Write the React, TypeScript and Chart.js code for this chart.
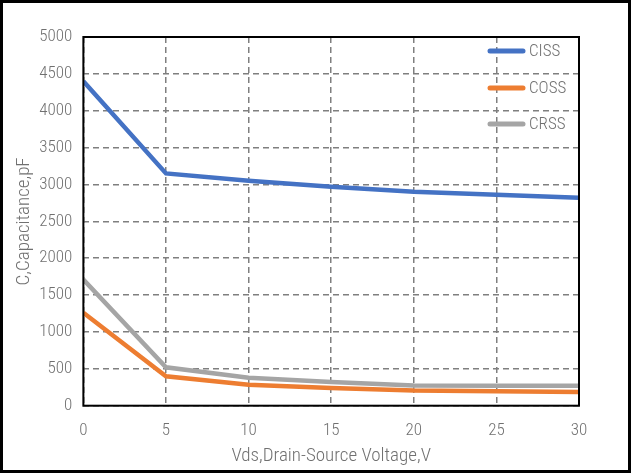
import React, { useEffect, useRef } from "react";
import { Chart, registerables } from "chart.js";

Chart.register(...registerables);

const voltages = [0, 5, 10, 15, 20, 25, 30];
const ciss = [4400, 3150, 3050, 2970, 2900, 2860, 2820];
const coss = [1260, 400, 285, 240, 205, 195, 185];
const crss = [1710, 520, 380, 320, 275, 270, 270];
const seriesNames = ["CISS", "COSS", "CRSS"];
const seriesColors = ["#4472C4", "#ED7D31", "#A5A5A5"];
const xTitle = "Vds,Drain-Source Voltage,V";
const yTitle = "C,Capacitance,pF";

const FONT = "'Roboto Condensed', Roboto, sans-serif";
const TEXT = "#707070";

const framePlugin = {
  id: "frameAndLegend",
  afterDatasetsDraw(chart: any) {
    const { ctx, chartArea } = chart;
    ctx.save();
    ctx.strokeStyle = "#000";
    ctx.lineWidth = 2;
    ctx.strokeRect(chartArea.left, chartArea.top, chartArea.right - chartArea.left, chartArea.bottom - chartArea.top);
    // legend
    const offs = [14, 51, 87];
    ctx.font = `300 17px ${FONT}`;
    ctx.textBaseline = "middle";
    ctx.textAlign = "left";
    seriesNames.forEach((n, i) => {
      const y = chartArea.top + offs[i];
      ctx.strokeStyle = seriesColors[i];
      ctx.lineWidth = 5;
      ctx.lineCap = "round";
      ctx.beginPath();
      ctx.moveTo(chartArea.right - 89, y);
      ctx.lineTo(chartArea.right - 56, y);
      ctx.stroke();
      ctx.fillStyle = TEXT;
      ctx.fillText(n, chartArea.right - 50, y + 1);
    });
    ctx.restore();
  },
};

export default function App() {
  const ref = useRef<HTMLCanvasElement>(null);
  useEffect(() => {
    document.body.style.margin = "0";
    const mk = (data: number[], i: number) => ({
      label: seriesNames[i],
      data: voltages.map((v, k) => ({ x: v, y: data[k] })),
      borderColor: seriesColors[i],
      backgroundColor: seriesColors[i],
      borderWidth: 4.5,
      pointRadius: 0,
      tension: 0,
    });
    const chart = new Chart(ref.current!, {
      type: "line",
      data: { datasets: [mk(crss, 2), mk(coss, 1), mk(ciss, 0)] },
      options: {
        animation: false,
        responsive: false,
        maintainAspectRatio: false,
        layout: { padding: { left: 15, right: 49, top: 34, bottom: 7 } },
        plugins: { legend: { display: false }, tooltip: { enabled: false } },
        scales: {
          x: {
            type: "linear",
            min: 0,
            max: 30,
            ticks: { stepSize: 5, color: TEXT, font: { family: FONT, size: 17, weight: "300", lineHeight: 1 }, padding: 17, callback: (v: any) => String(v) },
            grid: { color: "#7F7F7F", lineWidth: 1.5, drawTicks: false },
            border: { display: false, dash: [6, 4] },
            title: { display: true, text: xTitle, color: TEXT, font: { family: FONT, size: 19, weight: "300", lineHeight: 0.7 }, padding: { top: -7, bottom: 0 } },
          },
          y: {
            min: 0,
            max: 5000,
            ticks: { stepSize: 500, color: TEXT, font: { family: FONT, size: 17, weight: "300" }, padding: 11, callback: (v: any) => String(v) },
            grid: { color: "#7F7F7F", lineWidth: 1.5, drawTicks: false },
            border: { display: false, dash: [6, 4] },
            title: { display: true, text: yTitle, color: TEXT, font: { family: FONT, size: 19, weight: "300", lineHeight: 0.7 }, padding: { top: 0, bottom: -3 } },
          },
        },
      },
      plugins: [framePlugin],
    });
    return () => chart.destroy();
  }, []);
  return (
    <div style={{ width: 631, height: 473, boxSizing: "border-box", border: "3px solid #000", background: "#fff" }}>
      <canvas ref={ref} width={625} height={467} style={{ display: "block" }} />
    </div>
  );
}
